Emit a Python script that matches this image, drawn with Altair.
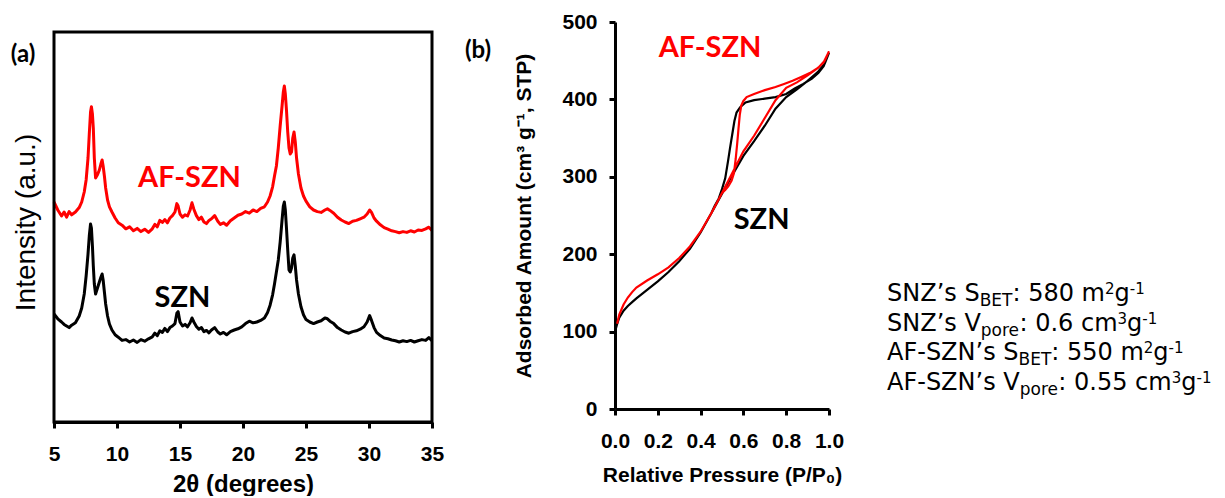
import altair as alt
import pandas as pd

# ---------------- data : panel (a) XRD ----------------
two_theta = [
    5.0, 5.3, 5.6, 5.8, 6.0, 6.2, 6.4, 6.7, 7.0, 7.2,
    7.4, 7.55, 7.7, 7.8, 7.9, 7.97, 8.05, 8.12, 8.2, 8.3,
    8.45, 8.6, 8.72, 8.82, 8.9, 9.0, 9.1, 9.25, 9.4, 9.6,
    9.85, 10.1, 10.4, 10.7, 11.0, 11.3, 11.6, 11.9, 12.2, 12.5,
    12.8, 13.0, 13.2, 13.4, 13.6, 13.8, 14.0, 14.2, 14.4, 14.6,
    14.75, 14.85, 15.0, 15.2, 15.4, 15.6, 15.8, 15.95, 16.1, 16.3,
    16.5, 16.7, 16.9, 17.1, 17.3, 17.5, 17.75, 18.0, 18.2, 18.45,
    18.7, 19.0, 19.3, 19.6, 19.9, 20.2, 20.5, 20.8, 21.1, 21.4,
    21.7, 21.95, 22.15, 22.35, 22.5, 22.65, 22.8, 22.95, 23.1, 23.2,
    23.28, 23.36, 23.45, 23.55, 23.65, 23.75, 23.85, 23.95, 24.05, 24.15,
    24.25, 24.4, 24.6, 24.8, 25.0, 25.3, 25.6, 25.9, 26.2, 26.5,
    26.7, 26.9, 27.2, 27.5, 27.8, 28.1, 28.4, 28.7, 29.0, 29.3,
    29.6, 29.85, 30.05, 30.2, 30.4, 30.6, 30.9, 31.2, 31.5, 31.8,
    32.1, 32.4, 32.7, 33.0, 33.3, 33.6, 33.9, 34.2, 34.5, 34.75,
    35.0,
]
xrd_afszn = [
    55.0, 53.0, 51.5, 52.5, 51.2, 52.6, 51.8, 52.5, 53.6, 55.0,
    57.5, 60.5, 66.0, 72.0, 77.5, 78.8, 77.0, 73.5, 66.0, 61.0,
    61.8, 63.0, 64.5, 65.5, 64.0, 61.5, 58.5, 55.5, 53.8, 52.5,
    51.0, 49.8, 49.2, 48.3, 48.8, 47.8, 48.4, 47.6, 48.2, 47.4,
    48.3, 49.4, 48.8, 50.4, 49.9, 50.6, 49.8, 51.0, 51.6, 52.5,
    54.6, 54.0, 52.0, 51.2, 51.8, 51.5, 53.0, 54.8, 53.2, 51.6,
    50.6, 51.2, 50.0, 49.6, 50.4, 50.8, 51.6, 50.2, 49.4, 49.8,
    49.2, 50.3, 51.0, 51.7, 52.0, 52.6, 52.2, 53.0, 52.6, 53.4,
    53.8, 55.0, 56.5, 58.8, 61.5, 64.0, 68.5, 74.0, 79.0, 82.5,
    84.0, 82.0, 78.0, 72.5, 68.5, 67.0, 67.5, 71.0, 72.5, 70.0,
    66.0, 62.0, 58.5, 56.5, 55.2, 53.8, 53.0, 52.6, 52.4, 53.0,
    53.3, 52.9, 52.2, 51.2, 50.5, 50.0, 49.6, 50.2, 50.4, 50.8,
    51.2, 52.0, 53.0, 52.4, 51.0, 50.2, 49.3, 48.6, 48.2, 47.8,
    47.6, 47.3, 47.6, 47.4, 47.8, 47.5, 48.0, 47.9, 48.3, 48.7,
    47.9,
]
xrd_szn = [
    27.0, 25.8, 25.0, 24.4, 24.0, 23.6, 24.2, 24.8, 26.5, 28.5,
    32.0, 36.5, 42.0, 46.5, 49.5, 48.5, 44.0, 39.0, 34.5, 32.0,
    33.5, 35.0, 36.2, 37.0, 35.5, 32.5, 29.5, 26.5, 24.5, 23.0,
    21.8, 21.2, 20.4, 20.6, 20.0, 20.5, 19.9, 20.6, 20.2, 20.8,
    21.3, 22.2, 21.6, 22.8, 22.4, 23.4, 22.6, 23.6, 24.0, 24.6,
    27.2, 27.6, 25.0, 24.0, 24.4, 23.8, 24.8, 26.0, 25.0, 23.9,
    23.2, 23.6, 22.6, 22.9, 22.3, 23.0, 23.6, 22.5, 22.0, 22.4,
    21.8, 22.6, 23.0, 23.3, 23.8, 24.6, 25.2, 24.8, 25.0, 25.4,
    26.0, 27.4, 29.2, 31.8, 34.5, 37.5, 40.5, 45.0, 50.5, 54.0,
    55.0, 53.0, 48.5, 43.0, 38.0, 37.5, 38.5, 41.0, 41.8, 39.0,
    35.5, 32.0, 28.8, 26.8, 25.6, 25.0, 24.6, 25.0, 25.3, 26.0,
    25.8, 25.2, 24.6, 23.6, 23.0, 22.5, 22.2, 22.6, 22.8, 23.2,
    23.8, 25.0, 26.6, 25.4, 23.6, 22.4, 21.6, 21.0, 20.8, 20.5,
    20.3, 20.0, 20.3, 20.1, 20.4, 20.0, 20.3, 20.6, 20.4, 21.1,
    20.3,
]
xrd_ticks = [5, 10, 15, 20, 25, 30, 35]

# ---------------- data : panel (b) N2 isotherms ----------------
szn_ads_p = [0.0, 0.01, 0.02, 0.04, 0.06, 0.08, 0.1, 0.15, 0.2, 0.25, 0.3, 0.35, 0.4,
             0.45, 0.5, 0.55, 0.6, 0.65, 0.7, 0.75, 0.8, 0.85, 0.9, 0.95, 0.98, 1.0]
szn_ads_v = [100, 110, 118, 127, 133, 138, 143, 154, 165, 177, 191, 207, 228,
             253, 278, 303, 327, 346, 366, 388, 403, 413, 424, 436, 446, 460]
szn_des_p = [1.0, 0.975, 0.95, 0.92, 0.88, 0.84, 0.8, 0.75, 0.7, 0.65, 0.61, 0.585,
             0.568, 0.558, 0.548, 0.538, 0.528, 0.515, 0.5, 0.485, 0.465, 0.45]
szn_des_v = [460, 443, 434, 427, 420, 414, 407, 403, 401, 399, 396, 390,
             383, 372, 355, 338, 320, 298, 284, 272, 262, 253]

afszn_ads_p = [0.01, 0.02, 0.04, 0.06, 0.08, 0.1, 0.15, 0.2, 0.25, 0.3, 0.35, 0.4,
               0.45, 0.5, 0.55, 0.6, 0.65, 0.7, 0.75, 0.8, 0.85, 0.9, 0.95, 0.98, 1.0]
afszn_ads_v = [110, 122, 135, 144, 151, 157, 166, 174, 183, 195, 210, 229,
               253, 279, 306, 333, 353, 376, 399, 415, 422, 431, 441, 450, 462]
afszn_des_p = [1.0, 0.975, 0.95, 0.91, 0.87, 0.83, 0.79, 0.75, 0.7, 0.65, 0.615, 0.6,
               0.59, 0.583, 0.577, 0.571, 0.564, 0.556, 0.545, 0.53, 0.515, 0.5]
afszn_des_v = [462, 448, 441, 434, 429, 424, 420, 416, 412, 407, 403, 398,
               392, 380, 362, 343, 323, 305, 295, 288, 283, 279]

p_ticks = [0.0, 0.2, 0.4, 0.6, 0.8, 1.0]
v_ticks = [0, 100, 200, 300, 400, 500]

# ---------------- text ----------------
series_names = ["SZN", "AF-SZN"]
series_colors = ["#000000", "#FF0000"]
label_a_theta = [15.75, 15.2]
label_a_int = [61.0, 31.0]
label_b_p = [0.444, 0.685]
label_b_v = [466, 244]

bet_lines = [
    [("SNZ\u2019s S", "base"), ("BET", "sub"), (": 580 m", "base"), ("2", "sup"), ("g", "base"), ("-1", "sup")],
    [("SNZ\u2019s V", "base"), ("pore", "sub"), (": 0.6 cm", "base"), ("3", "sup"), ("g", "base"), ("-1", "sup")],
    [("AF-SZN\u2019s S", "base"), ("BET", "sub"), (": 550 m", "base"), ("2", "sup"), ("g", "base"), ("-1", "sup")],
    [("AF-SZN\u2019s V", "base"), ("pore", "sub"), (": 0.55 cm", "base"), ("3", "sup"), ("g", "base"), ("-1", "sup")],
]

# ---------------- layout constants ----------------
FONT = "Liberation Sans, Arial, Helvetica, sans-serif"
LFONT = "Lato, Liberation Sans, sans-serif"
TFONT = "DejaVu Sans"
W_A, H_A = 378, 400
W_B, H_B = 214, 387
W_C = 345
TEXT_X0 = 23
TEXT_Y0 = 279
TEXT_DY = 29.5
SEG_SIZE = {"base": 24, "sub": 17, "sup": 15}
SEG_SHIFT = {"base": 0, "sub": 5, "sup": -7}
DEJAVU_W = {
    " ": 318, "\u2019": 318, ":": 337, ".": 318, "-": 361,
    "0": 636, "1": 636, "2": 636, "3": 636, "5": 636, "6": 636, "8": 636,
    "A": 684, "B": 686, "E": 632, "F": 575, "N": 748, "S": 635, "T": 611,
    "V": 684, "Z": 685, "c": 550, "e": 615, "g": 635, "m": 974, "o": 612,
    "p": 635, "r": 411, "s": 521,
}


def text_width(s, size):
    return sum(DEJAVU_W.get(ch, 600) for ch in s) * size / 1000.0


color_scale = alt.Scale(domain=series_names, range=series_colors)
AX = dict(labelFont=FONT, titleFont=FONT, labelFontWeight="bold", titleFontWeight="bold",
          labelColor="black", titleColor="black", domainColor="black", tickColor="black",
          domainWidth=3, tickWidth=3, grid=False, labelFlush=False, labelOverlap=False)
NO_FRAME = alt.ViewBackground(stroke="transparent", strokeOpacity=0)

# ---------------- panel (a) ----------------
xrd_df = pd.concat([
    pd.DataFrame({"theta": two_theta, "I": xrd_szn, "s": "SZN"}),
    pd.DataFrame({"theta": two_theta, "I": xrd_afszn, "s": "AF-SZN"}),
])
lab_a_df = pd.DataFrame({"theta": label_a_theta, "I": label_a_int, "s": ["AF-SZN", "SZN"]})

xA = alt.X("theta:Q", scale=alt.Scale(domain=[5, 35], nice=False, zero=False),
           axis=alt.Axis(values=xrd_ticks, title="2\u03b8 (degrees)", tickSize=6,
                         labelPadding=15, labelFontSize=21, titleFontSize=24,
                         titlePadding=8, **AX))
yA = alt.Y("I:Q", scale=alt.Scale(domain=[0, 100], nice=False),
           axis=alt.Axis(title="Intensity (a.u.)", labels=False, ticks=False, domain=False,
                         titleFontSize=28, titleFontWeight="normal", titlePadding=14,
                         titleFont=FONT, titleColor="black", grid=False))

xrd_lines = alt.Chart(xrd_df).mark_line(strokeWidth=3, strokeJoin="round").encode(
    x=xA, y=yA, color=alt.Color("s:N", scale=color_scale, legend=None), detail="s:N")
xrd_labels = alt.Chart(lab_a_df).mark_text(font=LFONT, fontSize=29, fontWeight="bold").encode(
    x=xA, y=yA, text="s:N", color=alt.Color("s:N", scale=color_scale, legend=None))
frame_a = alt.Chart(pd.DataFrame({"k": [0]})).mark_rect(
    fillOpacity=0, stroke="black", strokeWidth=3).encode(
    x=alt.value(0), x2=alt.value(W_A), y=alt.value(10), y2=alt.value(H_A))
tag_a = alt.Chart(pd.DataFrame({"t": ["(a)"]})).mark_text(
    font=LFONT, fontSize=24, fontWeight="bold", color="black").encode(
    x=alt.value(-31), y=alt.value(33), text="t:N")

panel_a = alt.layer(xrd_lines, xrd_labels, frame_a, tag_a).properties(
    width=W_A, height=H_A, view=NO_FRAME)

# ---------------- panel (b) ----------------
def branch(p, v, s, start):
    return pd.DataFrame({"p": p, "v": v, "s": s, "idx": list(range(start, start + len(p)))})


szn_df = pd.concat([branch(szn_ads_p, szn_ads_v, "SZN", 0),
                    branch(szn_des_p, szn_des_v, "SZN", len(szn_ads_p))])
afszn_df = pd.concat([branch(afszn_ads_p, afszn_ads_v, "AF-SZN", 0),
                      branch(afszn_des_p, afszn_des_v, "AF-SZN", len(afszn_ads_p))])
lab_b_df = pd.DataFrame({"p": label_b_p, "v": label_b_v, "s": ["AF-SZN", "SZN"]})

xB = alt.X("p:Q", scale=alt.Scale(domain=[0, 1], nice=False),
           axis=alt.Axis(values=p_ticks, format=".1f", title="Relative Pressure (P/P\u2080)",
                         tickSize=6, labelPadding=15, labelFontSize=21, titleFontSize=21,
                         titlePadding=13, **AX))
yB = alt.Y("v:Q", scale=alt.Scale(domain=[0, 500], nice=False),
           axis=alt.Axis(values=v_ticks, title="Adsorbed Amount (cm\u00b3 g\u207b\u00b9, STP)",
                         tickSize=6, labelPadding=12, labelFontSize=21, titleFontSize=21,
                         titlePadding=27, **AX))

iso_szn = alt.Chart(szn_df).mark_line(strokeWidth=2.2, color="#000000").encode(
    x=xB, y=yB, order="idx:Q")
iso_afszn = alt.Chart(afszn_df).mark_line(strokeWidth=2.2, color="#FF0000").encode(
    x=xB, y=yB, order="idx:Q")
iso_labels = alt.Chart(lab_b_df).mark_text(font=LFONT, fontSize=29, fontWeight="bold").encode(
    x=xB, y=yB, text="s:N", color=alt.Color("s:N", scale=color_scale, legend=None))
tag_b = alt.Chart(pd.DataFrame({"t": ["(b)"]})).mark_text(
    font=LFONT, fontSize=24, fontWeight="bold", color="black").encode(
    x=alt.value(-137), y=alt.value(29), text="t:N")

panel_b = alt.layer(iso_szn, iso_afszn, iso_labels, tag_b).properties(
    width=W_B, height=H_B, view=alt.ViewBackground(stroke="black", strokeWidth=3))

# ---------------- panel (c): BET text block ----------------
rows = []
for i, line in enumerate(bet_lines):
    x = TEXT_X0
    base_y = TEXT_Y0 + i * TEXT_DY
    for seg, kind in line:
        fs = SEG_SIZE[kind]
        rows.append({"tx": x, "ty": base_y + SEG_SHIFT[kind], "t": seg, "fs": fs})
        x += text_width(seg, fs)
text_df = pd.DataFrame(rows)

panel_c = alt.Chart(text_df).mark_text(
    align="left", baseline="alphabetic", font=TFONT, color="black").encode(
    x=alt.X("tx:Q", scale=None, axis=None),
    y=alt.Y("ty:Q", scale=None, axis=None),
    text="t:N",
    size=alt.Size("fs:Q", scale=None, legend=None),
).properties(width=W_C, height=H_B, view=NO_FRAME)

chart = alt.hconcat(panel_a, panel_b, panel_c, spacing=20, background="white",
                    padding={"left": 2, "top": 3, "right": 0, "bottom": 0}).configure_view(
    stroke="transparent", strokeOpacity=0)

chart.save("out.html", embed_options={"renderer": "svg", "actions": False})
